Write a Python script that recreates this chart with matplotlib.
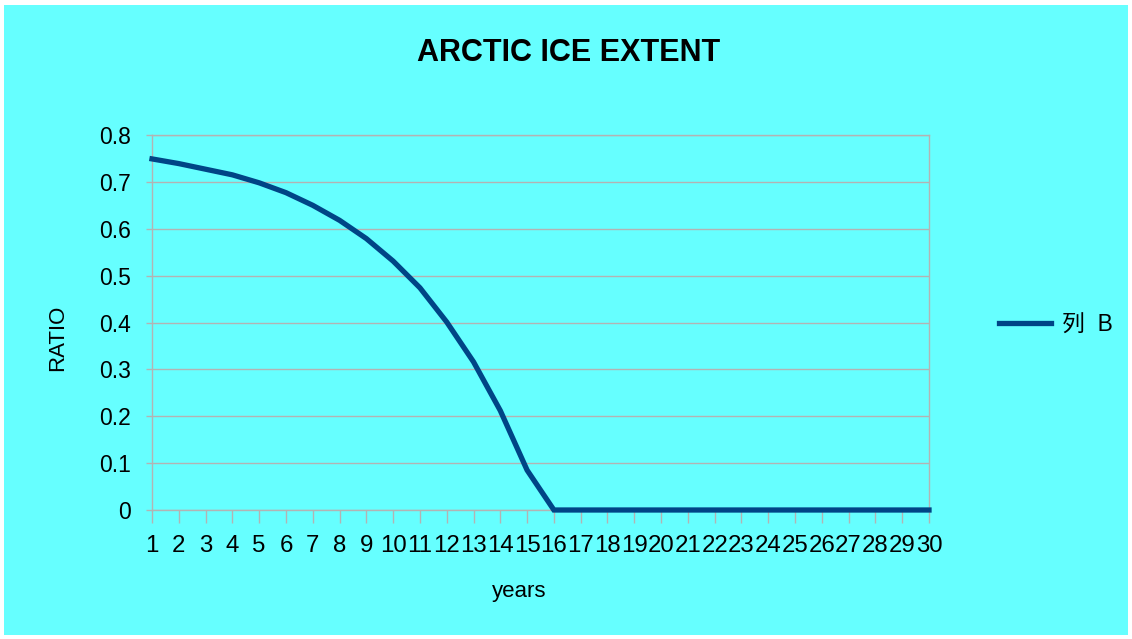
import matplotlib
matplotlib.use("Agg")
import matplotlib.pyplot as plt
from matplotlib.patches import Rectangle

years = list(range(1, 31))
ratio = [0.749, 0.739, 0.727, 0.715, 0.698, 0.677, 0.650, 0.618, 0.579, 0.531,
         0.474, 0.401, 0.316, 0.212, 0.085, 0.0] + [0.0] * 14
yticks = [0, 0.1, 0.2, 0.3, 0.4, 0.5, 0.6, 0.7, 0.8]

W, H = 1132, 639
fig = plt.figure(figsize=(W / 100, H / 100), dpi=100, facecolor="white")
bg = "#66ffff"
fig.patches.append(Rectangle((4 / W, 4 / H), (W - 8) / W, (H - 9) / H,
                             transform=fig.transFigure, facecolor=bg,
                             edgecolor="none", zorder=-10))

fam = ["Liberation Sans", "Noto Sans CJK SC", "DejaVu Sans"]
plt.rcParams["font.family"] = fam

L, R, T, B = 152, 929, 135, 510
ax = fig.add_axes([L / W, 1 - B / H, (R - L) / W, (B - T) / H])
ax.set_facecolor(bg)
ax.set_zorder(1)
grid_c = "#b3b3b3"

ax.plot(years, ratio, color="#004586", lw=3.8, solid_joinstyle="miter",
        label="列  B", zorder=3, clip_on=False)

ax.set_xlim(1, 30)
ax.set_ylim(0, 0.8)
ax.set_yticks(yticks)
ax.set_yticklabels([f"{v:g}" for v in yticks])
ax.set_xticks(years)
ax.set_xticklabels([str(y) for y in years])
ax.yaxis.grid(True, color=grid_c, lw=1)
ax.set_axisbelow(True)
for s in ax.spines.values():
    s.set_color(grid_c)
    s.set_linewidth(1)
ax.tick_params(axis="x", length=9, color=grid_c, width=1, pad=9,
               labelsize=17.3, labelcolor="black")
ax.tick_params(axis="y", length=4, color=grid_c, width=1, pad=11,
               labelsize=16.5, labelcolor="black")

fig.text(569 / W, 1 - 53 / H, "ARCTIC ICE EXTENT", ha="center", va="center",
         fontsize=22, fontweight="bold")
fig.text(519 / W, 1 - 592 / H, "years", ha="center", va="center", fontsize=16)
fig.text(58 / W, 1 - 338 / H, "RATIO", ha="center", va="center", fontsize=16,
         rotation=90)

leg = fig.legend(loc="center left", bbox_to_anchor=(978 / W, 1 - 325 / H),
                 frameon=False, fontsize=16.5, handlelength=2.3,
                 handletextpad=0.45)

fig.savefig("out.png", dpi=100, facecolor="white")
